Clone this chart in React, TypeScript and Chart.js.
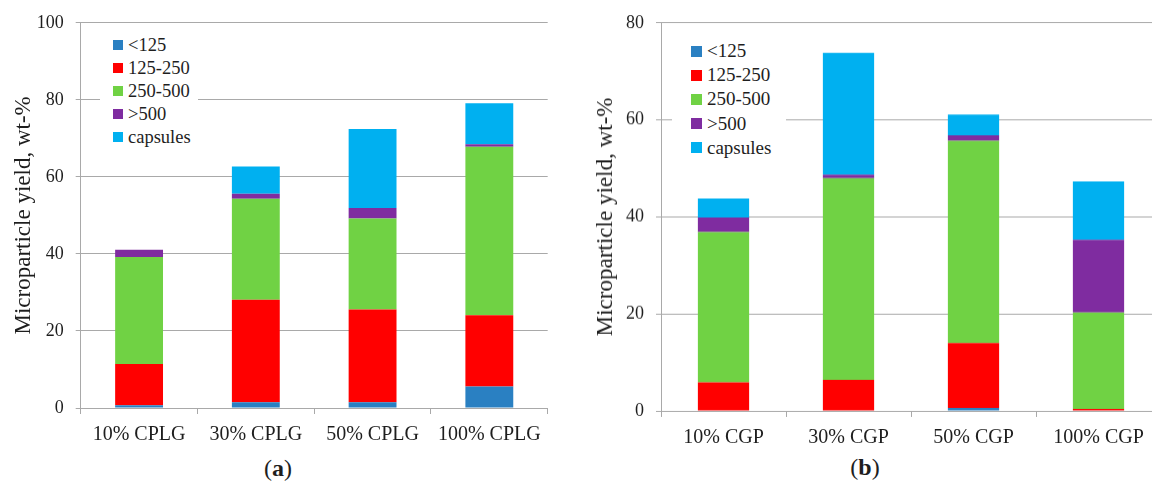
import React, { useEffect, useRef } from "react";
import { Chart, registerables } from "chart.js";

Chart.register(...registerables);

const SERIES_LABELS = ["<125", "125-250", "250-500", ">500", "capsules"];
const SERIES_COLORS = ["#2a80c2", "#ff0000", "#70d244", "#7f2ca0", "#00b0f0"];

const CATEGORIES_A = ["10% CPLG", "30% CPLG", "50% CPLG", "100% CPLG"];
const A_LT125 = [0.7, 1.5, 1.5, 5.6];
const A_125_250 = [10.7, 26.6, 24.1, 18.5];
const A_250_500 = [27.8, 26.2, 23.6, 43.7];
const A_GT500 = [1.9, 1.3, 2.7, 0.7];
const A_CAPSULES = [0, 7.1, 20.5, 10.6];
const A_Y_MAX = 100;

const CATEGORIES_B = ["10% CGP", "30% CGP", "50% CGP", "100% CGP"];
const B_LT125 = [0, 0, 0.6, 0];
const B_125_250 = [5.9, 6.4, 13.4, 0.4];
const B_250_500 = [31.0, 41.6, 41.7, 19.9];
const B_GT500 = [3.0, 0.7, 1.1, 15.0];
const B_CAPSULES = [3.9, 25.1, 4.3, 12.0];
const B_Y_MAX = 80;

const Y_STEP = 20;
const Y_TITLE = "Microparticle yield, wt-%";
const FONT = "'Liberation Serif', serif";
const TEXT = "#1e1e1e";
const GRID = "#a9a9a9";

function makeConfig(
  categories: string[],
  series: number[][],
  yMax: number,
  axisWidth: number,
  titlePad: number,
  padRight: number
): any {
  return {
    type: "bar",
    data: {
      labels: categories,
      datasets: series.map((vals, i) => ({
        label: SERIES_LABELS[i],
        data: vals,
        backgroundColor: SERIES_COLORS[i],
        borderWidth: 0,
        categoryPercentage: 1,
        barPercentage: 0.41,
      })),
    },
    options: {
      responsive: false,
      animation: false,
      devicePixelRatio: 1,
      layout: { padding: { top: 22, right: padRight, left: 0, bottom: 0 } },
      plugins: {
        legend: { display: false },
        tooltip: { enabled: false },
      },
      scales: {
        x: {
          stacked: true,
          grid: {
            drawOnChartArea: false,
            drawTicks: true,
            tickLength: 6,
            color: GRID,
            offset: true,
          },
          border: { color: GRID },
          ticks: {
            color: TEXT,
            font: { family: FONT, size: 20 },
            padding: 9,
            maxRotation: 0,
            autoSkip: false,
          },
          afterFit: (s: any) => {
            s.height = 42;
          },
        },
        y: {
          stacked: true,
          min: 0,
          max: yMax,
          ticks: {
            stepSize: Y_STEP,
            padding: 12,
            color: TEXT,
            font: { family: FONT, size: 18 },
          },
          grid: { color: GRID, tickLength: 5 },
          border: { display: true, color: GRID },
          title: {
            display: true,
            text: Y_TITLE,
            color: TEXT,
            font: { family: FONT, size: 23 },
            padding: { top: titlePad, bottom: 0 },
          },
          afterFit: (s: any) => {
            s.width = axisWidth;
          },
        },
      },
    },
  };
}

function BarChart(props: { config: any; width: number; height: number; left: number; top: number }) {
  const ref = useRef<HTMLCanvasElement | null>(null);
  useEffect(() => {
    if (!ref.current) return;
    const chart = new Chart(ref.current, props.config);
    return () => chart.destroy();
  }, []);
  return (
    <canvas
      ref={ref}
      width={props.width}
      height={props.height}
      style={{
        position: "absolute",
        left: props.left,
        top: props.top,
        width: props.width,
        height: props.height,
      }}
    />
  );
}

function BoxLegend(props: {
  boxLeft: number;
  boxTop: number;
  boxW: number;
  boxH: number;
  sqLeft: number;
  firstRow: number;
  rowGap: number;
  sq: number;
  fontSize: number;
}) {
  return (
    <>
      <div
        style={{
          position: "absolute",
          left: props.boxLeft,
          top: props.boxTop,
          width: props.boxW,
          height: props.boxH,
          background: "#ffffff",
        }}
      />
      {SERIES_LABELS.map((label, i) => {
        const cy = props.firstRow + i * props.rowGap;
        return (
          <div
            key={label}
            style={{
              position: "absolute",
              left: props.sqLeft,
              top: cy - 12,
              height: 24,
              display: "flex",
              alignItems: "center",
              whiteSpace: "nowrap",
              fontSize: props.fontSize,
              lineHeight: "24px",
            }}
          >
            <span
              style={{
                display: "inline-block",
                width: props.sq,
                height: props.sq,
                background: SERIES_COLORS[i],
                marginRight: 5,
              }}
            />
            <span>{label}</span>
          </div>
        );
      })}
    </>
  );
}

export default function App() {
  const configA = makeConfig(
    CATEGORIES_A,
    [A_LT125, A_125_250, A_250_500, A_GT500, A_CAPSULES],
    A_Y_MAX,
    80.7,
    10,
    12.3
  );
  const configB = makeConfig(
    CATEGORIES_B,
    [B_LT125, B_125_250, B_250_500, B_GT500, B_CAPSULES],
    B_Y_MAX,
    81,
    12,
    19
  );
  return (
    <div
      style={{
        position: "fixed",
        left: 0,
        top: 0,
        width: 1152,
        height: 490,
        overflow: "hidden",
        background: "#ffffff",
        fontFamily: FONT,
        color: TEXT,
      }}
    >
      <BarChart config={configA} width={560} height={450} left={0} top={0} />
      <BarChart config={configB} width={600} height={452.7} left={580} top={0} />
      <BoxLegend boxLeft={100} boxTop={33} boxW={98} boxH={117} sqLeft={113} firstRow={45} rowGap={23} sq={10} fontSize={18.5} />
      <BoxLegend boxLeft={672} boxTop={37} boxW={114} boxH={125} sqLeft={691} firstRow={51} rowGap={24.2} sq={11} fontSize={19} />
      <div style={{ position: "absolute", left: 278, top: 468, transform: "translate(-50%, -50%)", fontSize: 24, whiteSpace: "nowrap" }}>
        (<b>a</b>)
      </div>
      <div style={{ position: "absolute", left: 865, top: 467, transform: "translate(-50%, -50%)", fontSize: 24, whiteSpace: "nowrap" }}>
        (<b>b</b>)
      </div>
    </div>
  );
}
